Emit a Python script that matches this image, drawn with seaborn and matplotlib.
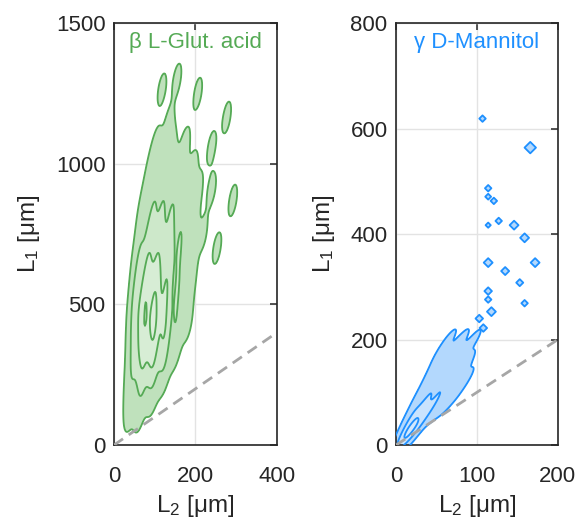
import numpy as np
import pandas as pd
import matplotlib
matplotlib.use("Agg")
import matplotlib.pyplot as plt
from matplotlib.colors import ListedColormap
import seaborn as sns

sns.set_style("white")
plt.rcParams['font.family'] = ['Liberation Sans', 'DejaVu Sans']
plt.rcParams['mathtext.fontset'] = 'custom'
plt.rcParams['mathtext.rm'] = 'Liberation Sans'
plt.rcParams['mathtext.it'] = 'Liberation Sans:italic'

# ---- beta L-glutamic acid: (L2, L1, count) ----
glu_L2 = [38, 62,
          42, 68, 95,
          46, 70, 95, 122,
          50, 72, 96, 122, 150,
          52, 75, 98, 124, 152, 180,
          54, 77, 100, 126, 154, 182,
          58, 81, 104, 130, 158, 186,
          62, 85, 108, 134, 160, 188,
          68, 90, 113, 138, 164, 190, 218,
          74, 96, 118, 142, 168, 196,
          82, 104, 126, 150, 176, 206, 240,
          92, 114, 138, 165, 195,
          105, 140, 175,
          135,
          118, 155, 206, 277, 292, 253, 240]
glu_L1 = [110, 110,
          190, 190, 190,
          270, 270, 270, 270,
          350, 350, 350, 350, 350,
          430, 430, 430, 430, 430, 430,
          510, 510, 510, 510, 510, 510,
          590, 590, 590, 590, 590, 590,
          670, 670, 670, 670, 670, 670,
          750, 750, 750, 750, 750, 750, 750,
          830, 830, 830, 830, 830, 830,
          910, 910, 910, 910, 910, 910, 910,
          990, 990, 990, 990, 990,
          1070, 1070, 1070,
          1140,
          1265, 1300, 1250, 1165, 870, 700, 1060]
glu_n = [1, 1,
         2, 3, 2,
         3, 6, 6, 3,
         4, 9, 10, 6, 2,
         5, 11, 14, 7, 3, 1,
         5, 11, 12, 7, 3, 1,
         4, 9, 9, 6, 3, 2,
         3, 6, 6, 5, 3, 2,
         2, 4, 4, 4, 3, 2, 1,
         2, 3, 3, 3, 2, 1,
         1, 2, 2, 2, 1, 1, 1,
         1, 1, 2, 1, 1,
         1, 1, 1,
         1,
         1, 1, 1, 1, 1, 1, 1]

# ---- gamma D-mannitol core: (L2, L1, count) ----
man_L2 = [9, 12,
          13, 18, 22,
          16, 23, 29,
          21, 29, 37, 44,
          27, 36, 46, 56, 63,
          33, 44, 55, 66, 75,
          40, 52, 64, 76, 86,
          48, 60, 72, 84,
          55, 68, 82,
          64, 80, 95]
man_L1 = [12, 12,
          25, 25, 25,
          40, 40, 40,
          60, 60, 60, 60,
          80, 80, 80, 80, 80,
          100, 100, 100, 100, 100,
          125, 125, 125, 125, 125,
          150, 150, 150, 150,
          175, 175, 175,
          197, 197, 197]
man_n = [4, 3,
         7, 7, 2,
         5, 8, 4,
         3, 6, 5, 1,
         2, 4, 4, 3, 1,
         2, 3, 3, 3, 1,
         1, 2, 3, 2, 1,
         1, 2, 2, 2,
         1, 2, 1,
         1, 1, 1]
# isolated mannitol crystals
iso_L2 = [107, 166, 114, 114, 121, 127, 114, 146, 159, 114, 172, 135, 153, 114, 114, 159, 118, 103, 108]
iso_L1 = [619, 564, 487, 471, 463, 425, 417, 417, 393, 346, 346, 330, 308, 292, 276, 269, 253, 240, 222]
iso_sz = [12, 36, 12, 10, 12, 12, 8, 22, 22, 22, 22, 18, 14, 16, 12, 12, 22, 16, 16]

glu = pd.DataFrame({"L2": glu_L2, "L1": glu_L1, "n": glu_n})
man = pd.DataFrame({"L2": man_L2, "L1": man_L1, "n": man_n})
iso = pd.DataFrame({"L2": iso_L2, "L1": iso_L1, "s": iso_sz})

GREEN = "#55aa55"
BLUE = "#1e90ff"
TXT = "#262626"

fig = plt.figure(figsize=(5.78, 5.20), dpi=100)
ax1 = fig.add_axes([0.197, 0.144, 0.282, 0.8115])
ax2 = fig.add_axes([0.685, 0.144, 0.280, 0.8115])

glev = [0.03, 0.3, 0.62, 0.94]
gbw = 0.45
sns.kdeplot(data=glu, x="L2", y="L1", weights="n", ax=ax1, fill=True,
            levels=glev + [1.0],
            cmap=ListedColormap(["#bfe1bc", "#cde8ca", "#d7edd5", "#dcefda"]),
            bw_adjust=gbw, gridsize=200, zorder=2)
sns.kdeplot(data=glu, x="L2", y="L1", weights="n", ax=ax1, fill=False,
            levels=glev, colors=GREEN, linewidths=1.3,
            bw_adjust=gbw, gridsize=200, zorder=3)

mlev = [0.02, 0.5, 0.88]
mbw = 0.62
sns.kdeplot(data=man, x="L2", y="L1", weights="n", ax=ax2, fill=True,
            levels=mlev + [1.0],
            cmap=ListedColormap(["#b3d8fd", "#c9e3fd", "#d2e8fd"]),
            bw_adjust=mbw, gridsize=200, zorder=2)
sns.kdeplot(data=man, x="L2", y="L1", weights="n", ax=ax2, fill=False,
            levels=mlev, colors=BLUE, linewidths=1.3,
            bw_adjust=mbw, gridsize=200, zorder=3)
sns.scatterplot(data=iso, x="L2", y="L1", size="s", sizes=(7, 34), marker="D",
                color="#b3d8fd", edgecolor=BLUE, linewidth=1.3, legend=False,
                ax=ax2, zorder=3)

for ax, xmax, ymax, xt, yt, title, col in [
        (ax1, 400, 1500, [0, 200, 400], [0, 500, 1000, 1500], "β L-Glut. acid", GREEN),
        (ax2, 200, 800, [0, 100, 200], [0, 200, 400, 600, 800], "γ D-Mannitol", BLUE)]:
    ax.axline((0, 0), slope=1, color="#a6a6a6", lw=2, ls=(0, (4, 2.5)), zorder=4)
    ax.set_xlim(0, xmax)
    ax.set_ylim(0, ymax)
    ax.set_xticks(xt)
    ax.set_yticks(yt)
    ax.grid(True, color="#e3e3e3", lw=1)
    ax.set_axisbelow(True)
    ax.tick_params(direction="in", length=5, width=1.1, top=True, right=True,
                   labelsize=16, colors=TXT)
    ax.tick_params(axis="x", pad=15)
    ax.tick_params(axis="y", pad=6)
    for sp in ax.spines.values():
        sp.set_visible(True)
        sp.set_color(TXT)
        sp.set_linewidth(1.2)
    ax.set_xlabel(r"L$_\mathregular{2}$ [μm]", fontsize=17.5, color=TXT, labelpad=4)
    ax.set_ylabel(r"L$_\mathregular{1}$ [μm]", fontsize=17.5, color=TXT, labelpad=10)
    ax.text(0.5, 0.955, title, transform=ax.transAxes, ha="center", va="center",
            color=col, fontsize=16)

fig.savefig("out.png", dpi=100)
